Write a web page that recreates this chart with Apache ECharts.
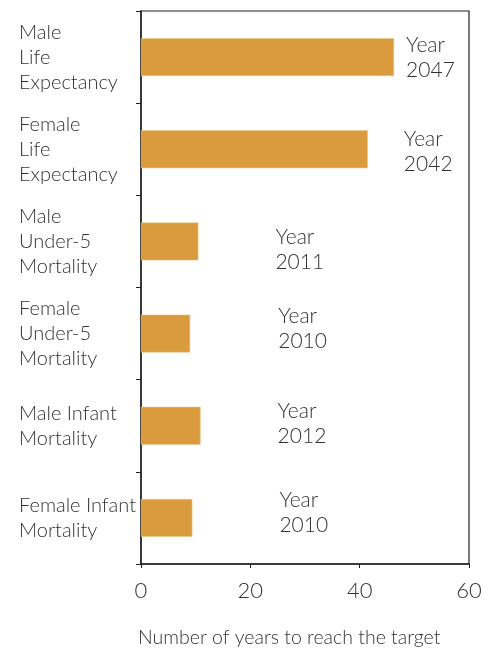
<!DOCTYPE html>
<html>
<head>
<meta charset="utf-8">
<script src="https://cdn.jsdelivr.net/npm/echarts@6/dist/echarts.min.js"></script>
<style>
html,body{margin:0;padding:0;background:#fff;}
#main{width:485px;height:651px;}
</style>
</head>
<body>
<div id="main"></div>
<script>
var categories = ["Male\nLife\nExpectancy", "Female\nLife\nExpectancy", "Male\nUnder-5\nMortality", "Female\nUnder-5\nMortality", "Male Infant\nMortality", "Female Infant\nMortality"];
var yearsToTarget = [46.3, 41.5, 10.5, 9.0, 10.9, 9.4];
var targetYears = ["2047", "2042", "2011", "2010", "2012", "2010"];
var labelOffsets = [[7, 1], [31, 2], [72, 8], [83, -5], [72, -2], [82, -5]];
var xTicks = [0, 20, 40, 60];

var textColor = '#333';
var fontFam = 'Lato, "Noto Sans", sans-serif';

var chart = echarts.init(document.getElementById('main'), null, {renderer: 'canvas'});
chart.setOption({
  animation: false,
  title: {
    text: 'Number of years to reach the target',
    left: 133, top: 623,
    textStyle: {fontFamily: fontFam, fontSize: 19.5, fontWeight: 300, color: textColor}
  },
  grid: {left: 141, right: 16, top: 11, bottom: 87, show: true, borderColor: '#222', borderWidth: 1.2, containLabel: false},
  xAxis: {
    type: 'value', min: xTicks[0], max: xTicks[xTicks.length - 1], interval: 20,
    axisLine: {show: true, lineStyle: {color: '#222', width: 1.5}},
    axisTick: {show: true, length: 4, lineStyle: {color: '#222'}},
    splitLine: {show: false},
    axisLabel: {fontFamily: fontFam, fontSize: 22, fontWeight: 300, color: textColor, margin: 16}
  },
  yAxis: {
    type: 'category', data: categories, inverse: true,
    axisLine: {show: true, lineStyle: {color: '#222', width: 1.5}},
    axisTick: {show: true, length: 5, lineStyle: {color: '#222'}},
    axisLabel: {fontFamily: fontFam, fontSize: 20, fontWeight: 300, color: textColor, align: 'left', margin: 122, lineHeight: 25}
  },
  series: [{
    type: 'bar',
    barWidth: 38,
    itemStyle: {color: '#DA9B3E', borderColor: '#EDC98D', borderWidth: 0.6},
    data: yearsToTarget.map(function (v, i) {
      return {
        value: v,
        label: {
          show: true, position: 'right', offset: labelOffsets[i],
          formatter: 'Year\n' + targetYears[i],
          fontFamily: fontFam, fontSize: 21, fontWeight: 300, lineHeight: 25, color: textColor, align: 'left'
        }
      };
    })
  }]
});
</script>
</body>
</html>
